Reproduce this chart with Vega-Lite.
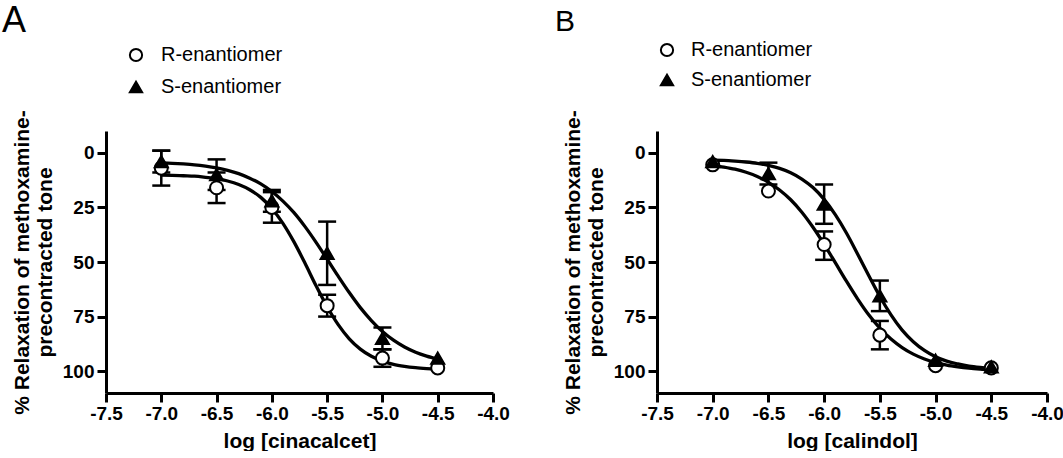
{
  "$schema": "https://vega.github.io/schema/vega-lite/v6.json",
  "background": "white",
  "padding": {"left": 2, "top": 3, "right": 0, "bottom": 0},
  "bounds": "flush",
  "spacing": 164,
  "config": {
    "view": {"stroke": null},
    "font": "Liberation Sans",
    "axis": {"grid": false, "domainColor": "#000", "domainWidth": 3, "tickColor": "#000", "tickWidth": 3, "tickSize": 9, "labelFont": "Liberation Sans", "labelFontSize": 19, "labelFontWeight": "bold", "labelColor": "#000", "titleFont": "Liberation Sans", "titleFontSize": 21, "titleFontWeight": "bold", "titleColor": "#000", "labelOverlap": false, "labelFlush": false},
    "axisX": {"labelPadding": 2, "titlePadding": 7},
    "axisY": {"labelPadding": 3, "titlePadding": 7, "titleLineHeight": 23},
    "legend": {"labelFont": "Liberation Sans", "labelFontSize": 20, "labelColor": "#000", "symbolStrokeWidth": 2, "symbolSize": 150, "padding": 0},
    "title": {"font": "Liberation Sans", "fontWeight": "normal", "color": "#000", "anchor": "start", "frame": "group"}
  },
  "datasets": {
    "ptsA": [
      {"series": "R-enantiomer", "logc": -7.0, "value": 7, "lo": -1, "hi": 15},
      {"series": "R-enantiomer", "logc": -6.5, "value": 16, "lo": 9, "hi": 23},
      {"series": "R-enantiomer", "logc": -6.0, "value": 25, "lo": 18, "hi": 32},
      {"series": "R-enantiomer", "logc": -5.5, "value": 70, "lo": 65, "hi": 75},
      {"series": "R-enantiomer", "logc": -5.0, "value": 94, "lo": 90, "hi": 98},
      {"series": "R-enantiomer", "logc": -4.5, "value": 98.5, "lo": null, "hi": null},
      {"series": "S-enantiomer", "logc": -7.0, "value": 4, "lo": -1, "hi": 9},
      {"series": "S-enantiomer", "logc": -6.5, "value": 10, "lo": 3, "hi": 17},
      {"series": "S-enantiomer", "logc": -6.0, "value": 22, "lo": 17, "hi": 27},
      {"series": "S-enantiomer", "logc": -5.5, "value": 46, "lo": 31.5, "hi": 60.5},
      {"series": "S-enantiomer", "logc": -5.0, "value": 85, "lo": 80, "hi": 90},
      {"series": "S-enantiomer", "logc": -4.5, "value": 94, "lo": null, "hi": null}
    ],
    "ptsB": [
      {"series": "R-enantiomer", "logc": -7.0, "value": 5.5, "lo": null, "hi": null},
      {"series": "R-enantiomer", "logc": -6.5, "value": 17.5, "lo": null, "hi": null},
      {"series": "R-enantiomer", "logc": -6.0, "value": 42, "lo": 36, "hi": 49},
      {"series": "R-enantiomer", "logc": -5.5, "value": 83.5, "lo": 77, "hi": 90},
      {"series": "R-enantiomer", "logc": -5.0, "value": 97.5, "lo": null, "hi": null},
      {"series": "R-enantiomer", "logc": -4.5, "value": 98.5, "lo": null, "hi": null},
      {"series": "S-enantiomer", "logc": -7.0, "value": 4, "lo": null, "hi": null},
      {"series": "S-enantiomer", "logc": -6.5, "value": 9.5, "lo": 4.5, "hi": 14.5},
      {"series": "S-enantiomer", "logc": -6.0, "value": 23.5, "lo": 14.5, "hi": 32.5},
      {"series": "S-enantiomer", "logc": -5.5, "value": 65.5, "lo": 58.5, "hi": 72.5},
      {"series": "S-enantiomer", "logc": -5.0, "value": 95, "lo": null, "hi": null},
      {"series": "S-enantiomer", "logc": -4.5, "value": 98, "lo": null, "hi": null}
    ],
    "curveA": [
      {"series": "R", "logc": -7.0, "value": 10.2}, {"series": "R", "logc": -6.9, "value": 10.3}, {"series": "R", "logc": -6.8, "value": 10.5}, {"series": "R", "logc": -6.7, "value": 10.7}, {"series": "R", "logc": -6.6, "value": 11.2}, {"series": "R", "logc": -6.5, "value": 11.8}, {"series": "R", "logc": -6.4, "value": 12.9}, {"series": "R", "logc": -6.3, "value": 14.5}, {"series": "R", "logc": -6.2, "value": 16.9}, {"series": "R", "logc": -6.1, "value": 20.4}, {"series": "R", "logc": -6.0, "value": 25.5}, {"series": "R", "logc": -5.9, "value": 32.3}, {"series": "R", "logc": -5.8, "value": 40.8}, {"series": "R", "logc": -5.7, "value": 50.6}, {"series": "R", "logc": -5.6, "value": 60.9}, {"series": "R", "logc": -5.5, "value": 70.5}, {"series": "R", "logc": -5.4, "value": 78.7}, {"series": "R", "logc": -5.3, "value": 85.2}, {"series": "R", "logc": -5.2, "value": 89.9}, {"series": "R", "logc": -5.1, "value": 93.2}, {"series": "R", "logc": -5.0, "value": 95.4}, {"series": "R", "logc": -4.9, "value": 96.9}, {"series": "R", "logc": -4.8, "value": 97.8}, {"series": "R", "logc": -4.7, "value": 98.4}, {"series": "R", "logc": -4.6, "value": 98.8}, {"series": "R", "logc": -4.5, "value": 99.1},
      {"series": "S", "logc": -7.0, "value": 4.6}, {"series": "S", "logc": -6.9, "value": 4.8}, {"series": "S", "logc": -6.8, "value": 5.1}, {"series": "S", "logc": -6.7, "value": 5.5}, {"series": "S", "logc": -6.6, "value": 6.1}, {"series": "S", "logc": -6.5, "value": 6.9}, {"series": "S", "logc": -6.4, "value": 8.0}, {"series": "S", "logc": -6.3, "value": 9.5}, {"series": "S", "logc": -6.2, "value": 11.6}, {"series": "S", "logc": -6.1, "value": 14.2}, {"series": "S", "logc": -6.0, "value": 17.7}, {"series": "S", "logc": -5.9, "value": 22.1}, {"series": "S", "logc": -5.8, "value": 27.4}, {"series": "S", "logc": -5.7, "value": 33.8}, {"series": "S", "logc": -5.6, "value": 41.0}, {"series": "S", "logc": -5.5, "value": 48.7}, {"series": "S", "logc": -5.4, "value": 56.5}, {"series": "S", "logc": -5.3, "value": 64.0}, {"series": "S", "logc": -5.2, "value": 70.9}, {"series": "S", "logc": -5.1, "value": 76.8}, {"series": "S", "logc": -5.0, "value": 81.8}, {"series": "S", "logc": -4.9, "value": 85.8}, {"series": "S", "logc": -4.8, "value": 88.9}, {"series": "S", "logc": -4.7, "value": 91.3}, {"series": "S", "logc": -4.6, "value": 93.1}, {"series": "S", "logc": -4.5, "value": 94.5}
    ],
    "curveB": [
      {"series": "R", "logc": -7.0, "value": 5.7}, {"series": "R", "logc": -6.9, "value": 6.5}, {"series": "R", "logc": -6.8, "value": 7.5}, {"series": "R", "logc": -6.7, "value": 8.9}, {"series": "R", "logc": -6.6, "value": 10.8}, {"series": "R", "logc": -6.5, "value": 13.5}, {"series": "R", "logc": -6.4, "value": 17.0}, {"series": "R", "logc": -6.3, "value": 21.5}, {"series": "R", "logc": -6.2, "value": 27.2}, {"series": "R", "logc": -6.1, "value": 34.1}, {"series": "R", "logc": -6.0, "value": 41.9}, {"series": "R", "logc": -5.9, "value": 50.3}, {"series": "R", "logc": -5.8, "value": 58.8}, {"series": "R", "logc": -5.7, "value": 66.9}, {"series": "R", "logc": -5.6, "value": 74.2}, {"series": "R", "logc": -5.5, "value": 80.3}, {"series": "R", "logc": -5.4, "value": 85.3}, {"series": "R", "logc": -5.3, "value": 89.2}, {"series": "R", "logc": -5.2, "value": 92.2}, {"series": "R", "logc": -5.1, "value": 94.4}, {"series": "R", "logc": -5.0, "value": 96.0}, {"series": "R", "logc": -4.9, "value": 97.2}, {"series": "R", "logc": -4.8, "value": 98.0}, {"series": "R", "logc": -4.7, "value": 98.6}, {"series": "R", "logc": -4.6, "value": 99.0}, {"series": "R", "logc": -4.5, "value": 99.3},
      {"series": "S", "logc": -7.0, "value": 3.4}, {"series": "S", "logc": -6.9, "value": 3.5}, {"series": "S", "logc": -6.8, "value": 3.8}, {"series": "S", "logc": -6.7, "value": 4.2}, {"series": "S", "logc": -6.6, "value": 4.8}, {"series": "S", "logc": -6.5, "value": 5.8}, {"series": "S", "logc": -6.4, "value": 7.1}, {"series": "S", "logc": -6.3, "value": 9.1}, {"series": "S", "logc": -6.2, "value": 12.0}, {"series": "S", "logc": -6.1, "value": 15.9}, {"series": "S", "logc": -6.0, "value": 21.3}, {"series": "S", "logc": -5.9, "value": 28.3}, {"series": "S", "logc": -5.8, "value": 36.7}, {"series": "S", "logc": -5.7, "value": 46.3}, {"series": "S", "logc": -5.6, "value": 56.2}, {"series": "S", "logc": -5.5, "value": 65.8}, {"series": "S", "logc": -5.4, "value": 74.2}, {"series": "S", "logc": -5.3, "value": 81.2}, {"series": "S", "logc": -5.2, "value": 86.5}, {"series": "S", "logc": -5.1, "value": 90.5}, {"series": "S", "logc": -5.0, "value": 93.4}, {"series": "S", "logc": -4.9, "value": 95.4}, {"series": "S", "logc": -4.8, "value": 96.7}, {"series": "S", "logc": -4.7, "value": 97.7}, {"series": "S", "logc": -4.6, "value": 98.3}, {"series": "S", "logc": -4.5, "value": 98.7}
    ]
  },
  "hconcat": [
    {
      "width": 387, "height": 262,
      "title": {"text": "A", "fontSize": 36, "dx": -104, "offset": -31, "baseline": "bottom"},
      "encoding": {
        "x": {"field": "logc", "type": "quantitative", "scale": {"domain": [-7.5, -4], "nice": false, "zero": false}, "axis": {"title": "log [cinacalcet]", "values": [-7.5, -7, -6.5, -6, -5.5, -5, -4.5, -4], "labelExpr": "replace(format(datum.value, '.1f'), '\u2212', '-')"}}
      },
      "layer": [
        {"data": {"name": "curveA"}, "mark": {"type": "line", "color": "#000", "strokeWidth": 3.3, "interpolate": "monotone"},
         "encoding": {"y": {"field": "value", "type": "quantitative", "scale": {"domain": [-10, 110], "reverse": true, "nice": false, "zero": false}, "axis": {"title": ["% Relaxation of methoxamine-", "precontracted tone"], "values": [0, 25, 50, 75, 100]}}, "detail": {"field": "series"}}},
        {"data": {"name": "ptsA"}, "mark": {"type": "rule", "color": "#000", "strokeWidth": 2.5},
         "encoding": {"y": {"field": "lo", "type": "quantitative", "axis": {"title": ["% Relaxation of methoxamine-", "precontracted tone"], "values": [0, 25, 50, 75, 100]}}, "y2": {"field": "hi"}}},
        {"data": {"name": "ptsA"}, "mark": {"type": "tick", "orient": "horizontal", "color": "#000", "size": 18, "thickness": 2.5, "opacity": 1},
         "encoding": {"y": {"field": "lo", "type": "quantitative", "axis": {"title": ["% Relaxation of methoxamine-", "precontracted tone"], "values": [0, 25, 50, 75, 100]}}}},
        {"data": {"name": "ptsA"}, "mark": {"type": "tick", "orient": "horizontal", "color": "#000", "size": 18, "thickness": 2.5, "opacity": 1},
         "encoding": {"y": {"field": "hi", "type": "quantitative", "axis": {"title": ["% Relaxation of methoxamine-", "precontracted tone"], "values": [0, 25, 50, 75, 100]}}}},
        {"data": {"name": "ptsA"}, "mark": {"type": "point", "filled": true, "size": 170, "strokeWidth": 2, "opacity": 1},
         "encoding": {
           "y": {"field": "value", "type": "quantitative", "axis": {"title": ["% Relaxation of methoxamine-", "precontracted tone"], "values": [0, 25, 50, 75, 100]}},
           "shape": {"field": "series", "type": "nominal", "scale": {"domain": ["R-enantiomer", "S-enantiomer"], "range": ["circle", "triangle-up"]}, "legend": {"title": null, "orient": "none", "legendX": 20, "legendY": -86, "rowPadding": 11, "labelOffset": 15}},
           "fill": {"field": "series", "type": "nominal", "scale": {"domain": ["R-enantiomer", "S-enantiomer"], "range": ["white", "black"]}, "legend": {"title": null, "orient": "none", "legendX": 20, "legendY": -86, "rowPadding": 11, "labelOffset": 15}},
           "stroke": {"field": "series", "type": "nominal", "scale": {"domain": ["R-enantiomer", "S-enantiomer"], "range": ["black", "black"]}, "legend": {"title": null, "orient": "none", "legendX": 20, "legendY": -86, "rowPadding": 11, "labelOffset": 15}}
         }}
      ]
    },
    {
      "width": 390, "height": 262,
      "title": {"text": "B", "fontSize": 30, "dx": -102, "offset": -27, "baseline": "bottom"},
      "encoding": {
        "x": {"field": "logc", "type": "quantitative", "scale": {"domain": [-7.5, -4], "nice": false, "zero": false}, "axis": {"title": "log [calindol]", "values": [-7.5, -7, -6.5, -6, -5.5, -5, -4.5, -4], "labelExpr": "replace(format(datum.value, '.1f'), '\u2212', '-')"}}
      },
      "layer": [
        {"data": {"name": "curveB"}, "mark": {"type": "line", "color": "#000", "strokeWidth": 3.3, "interpolate": "monotone"},
         "encoding": {"y": {"field": "value", "type": "quantitative", "scale": {"domain": [-10, 110], "reverse": true, "nice": false, "zero": false}, "axis": {"title": ["% Relaxation of methoxamine-", "precontracted tone"], "values": [0, 25, 50, 75, 100]}}, "detail": {"field": "series"}}},
        {"data": {"name": "ptsB"}, "mark": {"type": "rule", "color": "#000", "strokeWidth": 2.5},
         "encoding": {"y": {"field": "lo", "type": "quantitative", "axis": {"title": ["% Relaxation of methoxamine-", "precontracted tone"], "values": [0, 25, 50, 75, 100]}}, "y2": {"field": "hi"}}},
        {"data": {"name": "ptsB"}, "mark": {"type": "tick", "orient": "horizontal", "color": "#000", "size": 18, "thickness": 2.5, "opacity": 1},
         "encoding": {"y": {"field": "lo", "type": "quantitative", "axis": {"title": ["% Relaxation of methoxamine-", "precontracted tone"], "values": [0, 25, 50, 75, 100]}}}},
        {"data": {"name": "ptsB"}, "mark": {"type": "tick", "orient": "horizontal", "color": "#000", "size": 18, "thickness": 2.5, "opacity": 1},
         "encoding": {"y": {"field": "hi", "type": "quantitative", "axis": {"title": ["% Relaxation of methoxamine-", "precontracted tone"], "values": [0, 25, 50, 75, 100]}}}},
        {"data": {"name": "ptsB"}, "mark": {"type": "point", "filled": true, "size": 170, "strokeWidth": 2, "opacity": 1},
         "encoding": {
           "y": {"field": "value", "type": "quantitative", "axis": {"title": ["% Relaxation of methoxamine-", "precontracted tone"], "values": [0, 25, 50, 75, 100]}},
           "shape": {"field": "series", "type": "nominal", "scale": {"domain": ["R-enantiomer", "S-enantiomer"], "range": ["circle", "triangle-up"]}, "legend": {"title": null, "orient": "none", "legendX": 0, "legendY": -91, "rowPadding": 9, "labelOffset": 14}},
           "fill": {"field": "series", "type": "nominal", "scale": {"domain": ["R-enantiomer", "S-enantiomer"], "range": ["white", "black"]}, "legend": {"title": null, "orient": "none", "legendX": 0, "legendY": -91, "rowPadding": 9, "labelOffset": 14}},
           "stroke": {"field": "series", "type": "nominal", "scale": {"domain": ["R-enantiomer", "S-enantiomer"], "range": ["black", "black"]}, "legend": {"title": null, "orient": "none", "legendX": 0, "legendY": -91, "rowPadding": 9, "labelOffset": 14}}
         }}
      ]
    }
  ],
  "resolve": {"scale": {"x": "independent", "y": "independent", "shape": "independent", "fill": "independent", "stroke": "independent"}, "legend": {"shape": "independent", "fill": "independent", "stroke": "independent"}}
}
